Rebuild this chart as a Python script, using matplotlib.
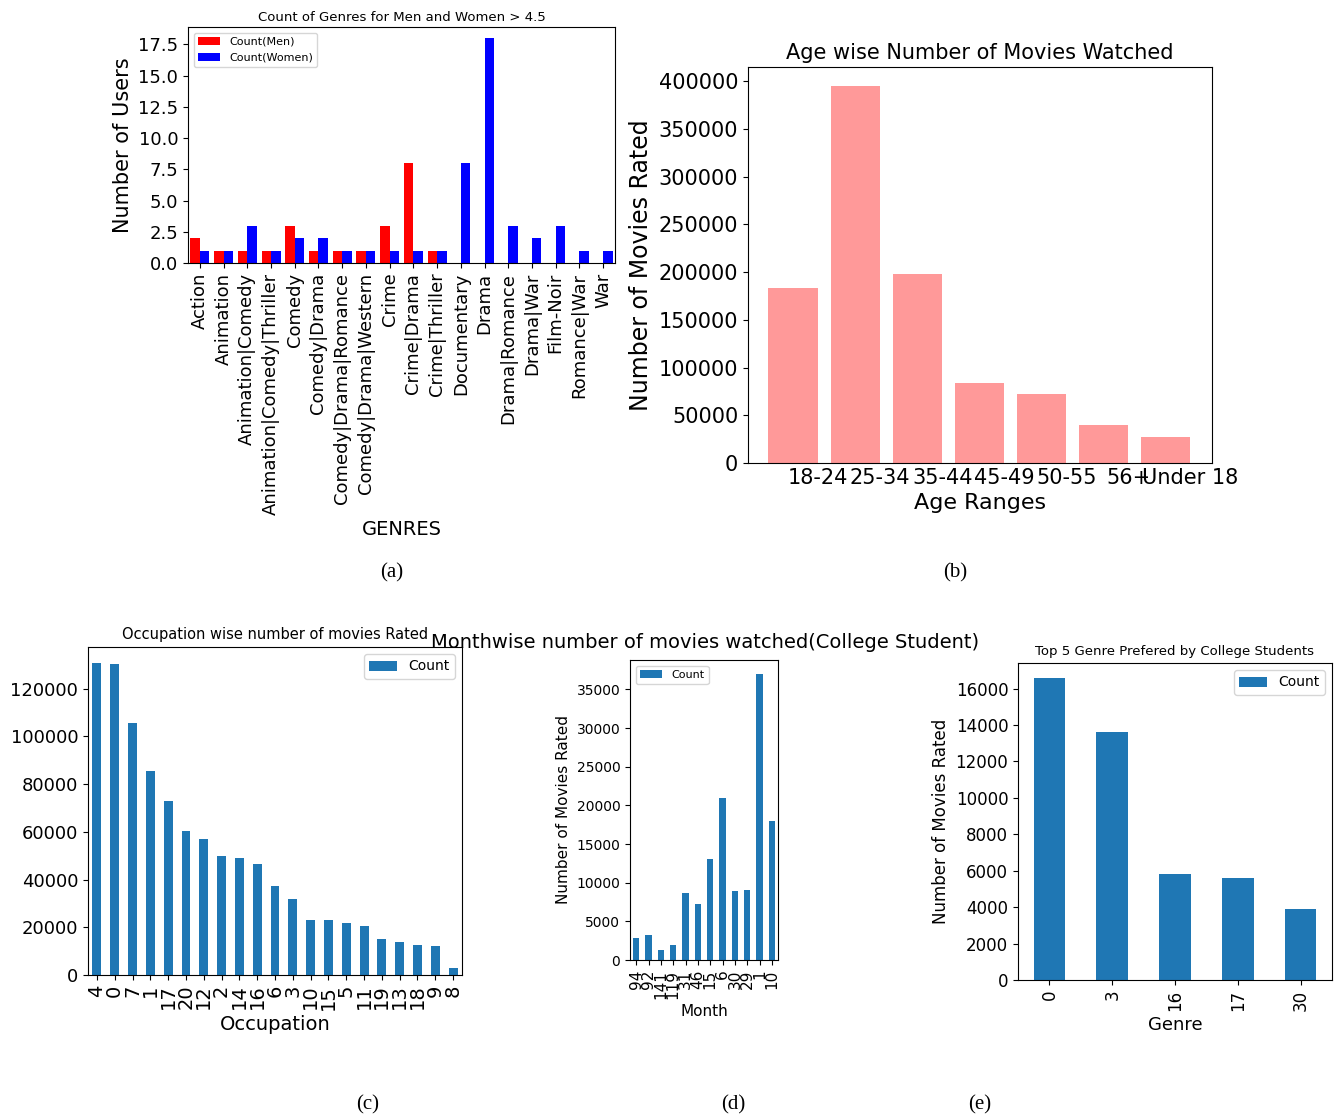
import matplotlib
matplotlib.use("Agg")
import matplotlib.pyplot as plt
import numpy as np

# (a) genres
genres = ["Action", "Animation", "Animation|Comedy", "Animation|Comedy|Thriller", "Comedy",
          "Comedy|Drama", "Comedy|Drama|Romance", "Comedy|Drama|Western", "Crime", "Crime|Drama",
          "Crime|Thriller", "Documentary", "Drama", "Drama|Romance", "Drama|War", "Film-Noir",
          "Romance|War", "War"]
men = [2, 1, 1, 1, 3, 1, 1, 1, 3, 8, 1, 0, 0, 0, 0, 0, 0, 0]
women = [1, 1, 3, 1, 2, 2, 1, 1, 1, 1, 1, 8, 18, 3, 2, 3, 1, 1]

# (b) age
ages = ["18-24", "25-34", "35-44", "45-49", "50-55", "56+", "Under 18"]
age_counts = [183500, 395500, 198500, 83500, 72500, 40000, 27000]

# (c) occupation
occupations = ["4", "0", "7", "1", "17", "20", "12", "2", "14", "16", "6", "3", "10", "15",
               "5", "11", "19", "13", "18", "9", "8"]
occ_counts = [131000, 130500, 105500, 85500, 73000, 60500, 57000, 50000, 49000, 46500, 37500,
              32000, 23000, 23000, 22000, 20500, 15000, 14000, 12500, 12000, 3000]

# (d) months
months = ["94", "92", "141", "119", "31", "46", "15", "6", "30", "29", "1", "10"]
month_counts = [2800, 3200, 1300, 2000, 8700, 7300, 13000, 21000, 8900, 9100, 37000, 18000]

# (e) genres college
top_genres = ["0", "3", "16", "17", "30"]
top_counts = [16600, 13600, 5800, 5600, 3900]

BLUE = "#1f77b4"

fig = plt.figure(figsize=(13.35, 11.17), dpi=100)
W, H = 1335, 1117

def ax_at(x0, y0, x1, y1):
    return fig.add_axes([x0 / W, 1 - y1 / H, (x1 - x0) / W, (y1 - y0) / H])

# (a)
ax = ax_at(188, 27, 615, 263)
x = np.arange(len(genres))
ax.bar(x - 0.2, men, 0.4, color="red", label="Count(Men)")
ax.bar(x + 0.2, women, 0.4, color="blue", label="Count(Women)")
ax.set_xlim(-0.5, len(genres) - 0.5)
ax.set_ylim(0, 18.9)
ax.set_yticks(np.arange(0, 17.6, 2.5))
ax.set_xticks(x)
ax.set_xticklabels(genres, rotation=90, fontsize=13)
ax.tick_params(axis="y", labelsize=13)
ax.set_ylabel("Number of Users", fontsize=15)
ax.set_xlabel("GENRES", fontsize=14)
ax.set_title("Count of Genres for Men and Women > 4.5", fontsize=9.5, pad=4)
ax.legend(loc="upper left", fontsize=8)

# (b)
ax = ax_at(748, 67, 1212, 463)
xb = np.arange(len(ages))
ax.bar(xb, age_counts, 0.8, color="#ff9999")
ax.set_xticks(xb + 0.4)
ax.set_xticklabels(ages, fontsize=15)
ax.tick_params(axis="x", length=0)
ax.tick_params(axis="y", labelsize=15)
ax.set_xlim(-0.73, 6.75)
ax.set_ylim(0, 415000)
ax.set_yticks(np.arange(0, 400001, 50000))
ax.set_ylabel("Number of Movies Rated", fontsize=17)
ax.set_xlabel("Age Ranges", fontsize=16)
ax.set_title("Age wise Number of Movies Watched", fontsize=15)

# (c)
ax = ax_at(88, 647, 462, 975)
xc = np.arange(len(occupations))
ax.bar(xc, occ_counts, 0.5, color=BLUE, label="Count")
ax.set_xlim(-0.5, len(occupations) - 0.5)
ax.set_ylim(0, 137500)
ax.set_xticks(xc)
ax.set_xticklabels(occupations, rotation=90, fontsize=14)
ax.tick_params(axis="y", labelsize=13)
ax.set_ylabel("Number of Movies Rated", fontsize=13)
ax.set_xlabel("Occupation", fontsize=14)
ax.set_title("Occupation wise number of movies Rated", fontsize=10.5)
ax.legend(loc="upper right", fontsize=10)

# (d)
ax = ax_at(630, 660, 778, 960)
xd = np.arange(len(months))
ax.bar(xd, month_counts, 0.5, color=BLUE, label="Count")
ax.set_xlim(-0.5, len(months) - 0.5)
ax.set_ylim(0, 38800)
ax.set_xticks(xd)
ax.set_xticklabels(months, rotation=90, fontsize=11)
ax.tick_params(axis="y", labelsize=10)
ax.set_ylabel("Number of Movies Rated", fontsize=11)
ax.set_xlabel("Month", fontsize=11)
ax.legend(loc="upper left", fontsize=8)
fig.text(705 / W, 1 - 643 / H, "Monthwise number of movies watched(College Student)",
         ha="center", va="center", fontsize=14)

# (e)
ax = ax_at(1018, 663, 1332, 980)
xe = np.arange(len(top_genres))
ax.bar(xe, top_counts, 0.5, color=BLUE, label="Count")
ax.set_xlim(-0.5, len(top_genres) - 0.5)
ax.set_ylim(0, 17400)
ax.set_yticks(np.arange(0, 16001, 2000))
ax.set_xticks(xe)
ax.set_xticklabels(top_genres, rotation=90, fontsize=12)
ax.tick_params(axis="y", labelsize=12)
ax.set_ylabel("Number of Movies Rated", fontsize=12)
ax.set_xlabel("Genre", fontsize=13)
ax.set_title("Top 5 Genre Prefered by College Students", fontsize=9.5)
ax.legend(loc="upper right", fontsize=10)

# captions
for cx, cy, t in [(392, 573, "(a)"), (955, 573, "(b)"), (368, 1105, "(c)"),
                  (733, 1105, "(d)"), (980, 1105, "(e)")]:
    fig.text(cx / W, 1 - cy / H, t, ha="center", va="center", fontsize=15,
             family="Liberation Serif")

fig.savefig("out.png", dpi=100)
